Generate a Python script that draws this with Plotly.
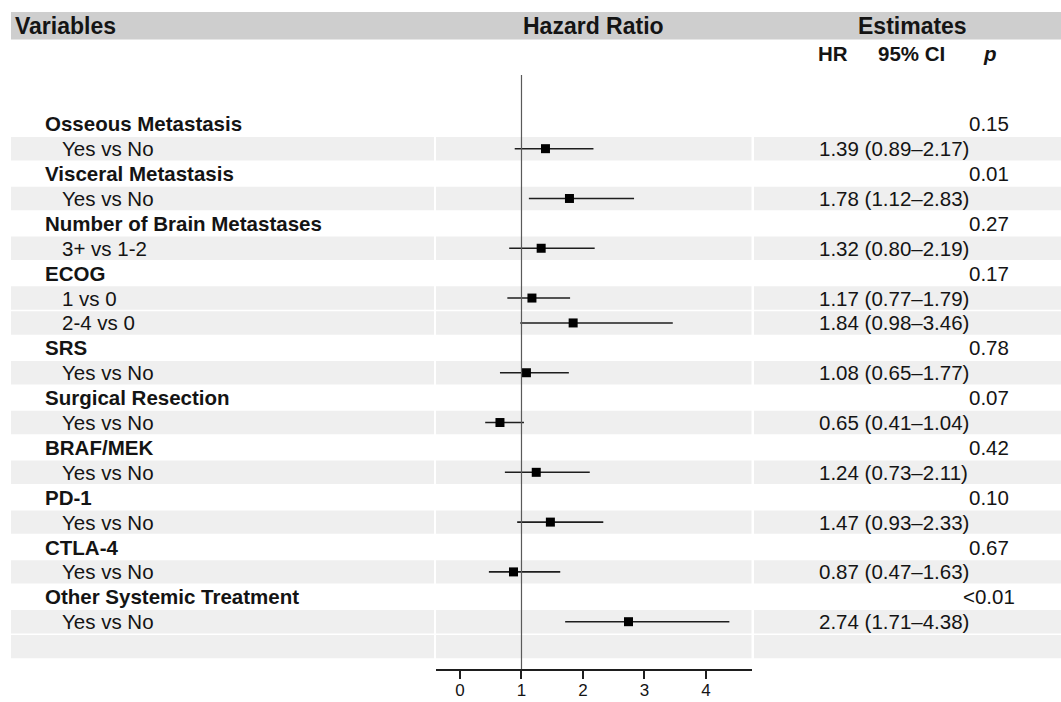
import plotly.graph_objects as go

# ---------------- data ----------------
row_labels = ["Osseous Metastasis", "Yes vs No", "Visceral Metastasis", "Yes vs No",
              "Number of Brain Metastases", "3+ vs 1-2", "ECOG", "1 vs 0", "2-4 vs 0",
              "SRS", "Yes vs No", "Surgical Resection", "Yes vs No", "BRAF/MEK", "Yes vs No",
              "PD-1", "Yes vs No", "CTLA-4", "Yes vs No", "Other Systemic Treatment",
              "Yes vs No", ""]
row_is_group = [True, False, True, False, True, False, True, False, False, True, False,
                True, False, True, False, True, False, True, False, True, False, False]
hr = [None, 1.39, None, 1.78, None, 1.32, None, 1.17, 1.84, None, 1.08, None, 0.65,
      None, 1.24, None, 1.47, None, 0.87, None, 2.74, None]
ci_low = [None, 0.89, None, 1.12, None, 0.80, None, 0.77, 0.98, None, 0.65, None, 0.41,
          None, 0.73, None, 0.93, None, 0.47, None, 1.71, None]
ci_high = [None, 2.17, None, 2.83, None, 2.19, None, 1.79, 3.46, None, 1.77, None, 1.04,
           None, 2.11, None, 2.33, None, 1.63, None, 4.38, None]
p_values = ["0.15", "", "0.01", "", "0.27", "", "0.17", "", "", "0.78", "", "0.07", "",
            "0.42", "", "0.10", "", "0.67", "", "<0.01", "", ""]
x_ticks = [0, 1, 2, 3, 4]

# ---------------- layout constants ----------------
W, H = 1061, 702
FONT = "Liberation Sans, Arial, sans-serif"
TXT = "#141414"
BODY = 20.5
rows = list(range(len(row_labels)))

def px(x):
    return x / W

def py(y):
    return 1 - y / H

fig = go.Figure()

# CI lines
cx, cy = [], []
for r, lo, hi in zip(rows, ci_low, ci_high):
    if lo is not None:
        cx += [lo, hi, None]
        cy += [r, r, None]
fig.add_trace(go.Scatter(x=cx, y=cy, mode="lines", line=dict(color="#1e1e1e", width=1.6),
                         hoverinfo="skip", showlegend=False))
# point estimates
mx = [v for v in hr if v is not None]
my = [r for r, v in zip(rows, hr) if v is not None]
fig.add_trace(go.Scatter(x=mx, y=my, mode="markers",
                         marker=dict(symbol="square", size=9, color="#000000",
                                     line=dict(width=0)),
                         showlegend=False))

shapes = []
# header band
shapes.append(dict(type="rect", xref="paper", yref="paper", x0=px(11), x1=1,
                   y0=py(39.5), y1=py(12), fillcolor="#cecece", line_width=0, layer="below"))
# stripes for sub rows
for r, g in zip(rows, row_is_group):
    if not g:
        for a, b in [(11, 434), (436, 751.5), (754, 1061)]:
            shapes.append(dict(type="rect", xref="paper", yref="y", x0=px(a), x1=px(b),
                               y0=r - 0.47, y1=r + 0.47, fillcolor="#efefef",
                               line_width=0, layer="below"))
# reference line at HR = 1
shapes.append(dict(type="line", xref="x", yref="y", x0=1, x1=1, y0=-1.96, y1=21.9,
                   line=dict(color="#5a5a5a", width=1.2)))

ann = []
def add_text(x, y, text, size=BODY, bold=False, xanchor="left", yref="y", xref="paper"):
    ann.append(dict(x=x, y=y, xref=xref, yref=yref, text=text, showarrow=False,
                    xanchor=xanchor, yanchor="middle",
                    font=dict(family=FONT, size=size, color=TXT,
                              weight="bold" if bold else "normal")))

# headers
add_text(px(13), py(26), "Variables", size=23, bold=True, yref="paper")
add_text(px(593.5), py(26), "Hazard Ratio", size=23, bold=True, xanchor="center", yref="paper")
add_text(px(912), py(26), "Estimates", size=23, bold=True, xanchor="center", yref="paper")
add_text(px(833), py(54), "HR", size=20.5, bold=True, xanchor="center", yref="paper")
add_text(px(911), py(54), "95% CI", size=20.5, bold=True, xanchor="center", yref="paper")
add_text(px(990), py(54), "<i>p</i>", size=20.5, bold=True, xanchor="center", yref="paper")

for r, lab, g, h, lo, hi, p in zip(rows, row_labels, row_is_group, hr, ci_low, ci_high, p_values):
    if lab:
        add_text(px(43) if g else px(60), r, lab, bold=g)
    if h is not None:
        add_text(px(817), r, f"{h:.2f} ({lo:.2f}\u2013{hi:.2f})")
    if p:
        add_text(px(989), r, p, xanchor="center")

fig.update_layout(
    width=W, height=H, margin=dict(l=0, r=0, t=0, b=0, autoexpand=False),
    paper_bgcolor="white", plot_bgcolor="rgba(0,0,0,0)",
    shapes=shapes, annotations=ann, showlegend=False,
    xaxis=dict(domain=[px(436), px(752)], range=[-0.39, 4.748], tickvals=x_ticks,
               automargin=False, ticklabelstandoff=-3,
               showgrid=False, zeroline=False, showline=True, linecolor="#1e1e1e",
               linewidth=1.5, ticks="outside", ticklen=8, tickwidth=1.5,
               tickcolor="#1e1e1e", tickfont=dict(family=FONT, size=17, color=TXT)),
    yaxis=dict(domain=[1 - 669 / H, 1], range=[21.9, -4.972], visible=False,
               automargin=False, showgrid=False, zeroline=False),
)

fig.write_html("out.html")
